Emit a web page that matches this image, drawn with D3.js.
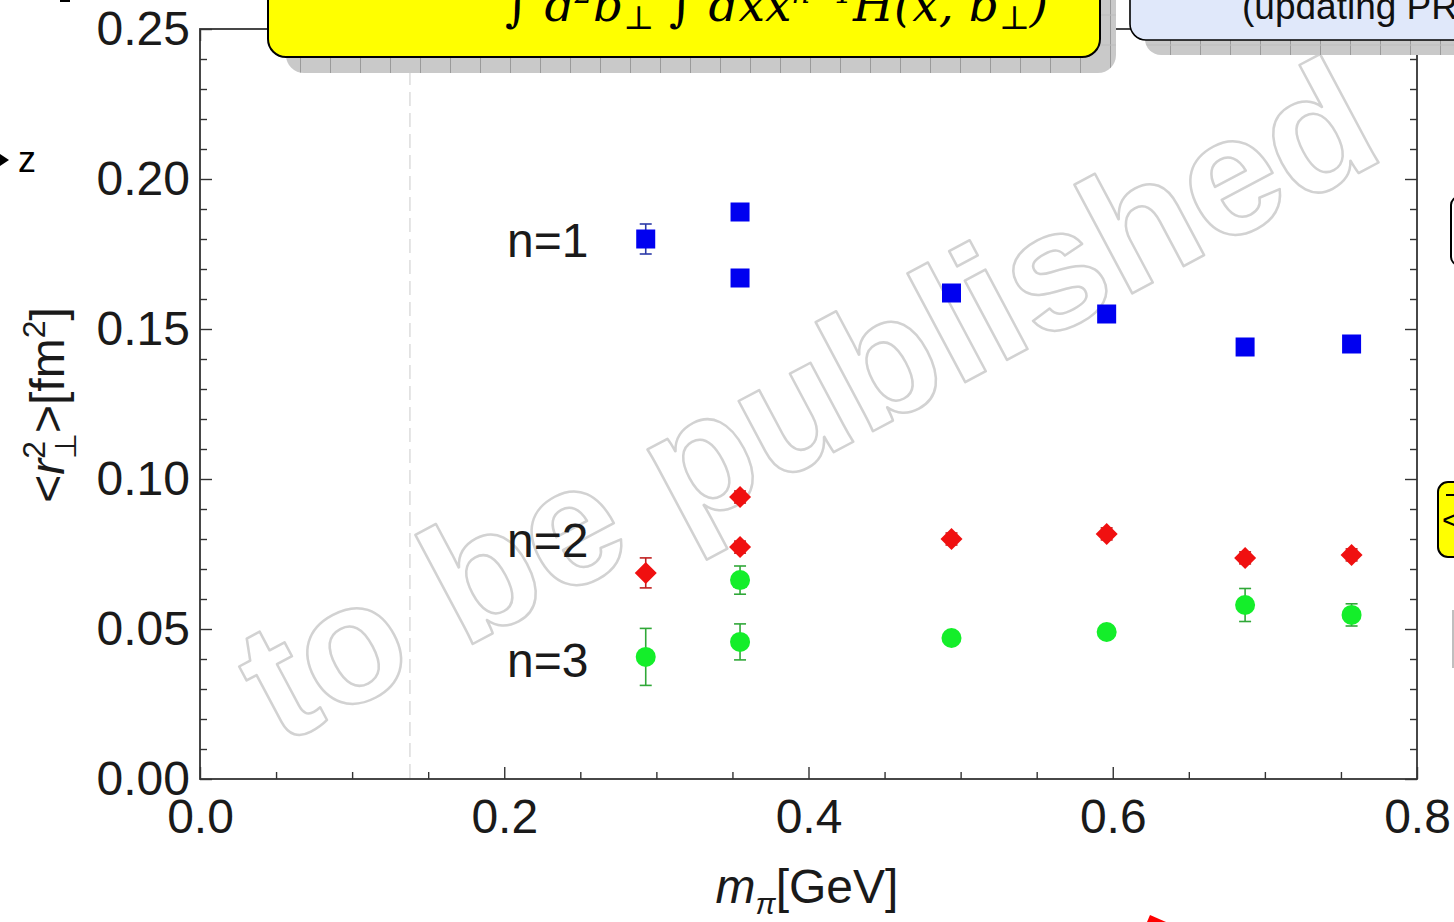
<!DOCTYPE html>
<html>
<head>
<meta charset="utf-8">
<script src="https://cdn.jsdelivr.net/npm/d3@7"></script>
<style>
  html, body { margin: 0; padding: 0; background: #fff; overflow: hidden; }
  svg { display: block; font-family: "Liberation Sans", Arial, sans-serif; }
</style>
</head>
<body>
<div id="chart"></div>
<script>
// ------------------------------
// Data
// ------------------------------
const mpi = [0.293, 0.355, 0.355, 0.494, 0.596, 0.687, 0.757];

const n1Values = [0.180, 0.189, 0.167, 0.162, 0.155, 0.144, 0.145];
const n1Errors = [0.005, 0.002, 0.002, 0.002, 0.002, 0.002, 0.002];

const n2Values = [0.0687, 0.094, 0.0773, 0.080, 0.0817, 0.0737, 0.0747];
const n2Errors = [0.005, 0.002, 0.002, 0.002, 0.002, 0.002, 0.002];

const n3Values = [0.0407, 0.0663, 0.0457, 0.047, 0.049, 0.058, 0.0547];
const n3Errors = [0.0095, 0.0047, 0.006, 0.002, 0.002, 0.0055, 0.0037];

const xMajorTicks = [0.0, 0.2, 0.4, 0.6, 0.8];
const xMinorTicks = [0.05, 0.1, 0.15, 0.25, 0.3, 0.35, 0.45, 0.5, 0.55, 0.65, 0.7, 0.75];
const yMajorTicks = [0.0, 0.05, 0.10, 0.15, 0.20, 0.25];
const yMinorTicks = d3.range(1, 25).map((i) => i / 100).filter((v) => Math.round(v * 100) % 5 !== 0);

const physicalPionMass = 0.138;

const seriesLabels = ["n=1", "n=2", "n=3"];
const seriesLabelY = [0.18, 0.08, 0.04];

// ------------------------------
// Layout
// ------------------------------
const width = 1454;
const height = 922;
const margin = { top: 29, right: 37, bottom: 143, left: 200 };

const svg = d3.select("#chart").append("svg").attr("width", width).attr("height", height);

const defs = svg.append("defs");
const pat = defs.append("pattern")
  .attr("id", "shadowGrid")
  .attr("patternUnits", "userSpaceOnUse")
  .attr("width", 30)
  .attr("height", 30);
pat.append("rect").attr("width", 30).attr("height", 30).attr("fill", "#c9c9c9");
pat.append("line").attr("x1", 0.5).attr("x2", 0.5).attr("y1", 0).attr("y2", 30)
  .attr("stroke", "#9a9a9a").attr("stroke-width", 1);
pat.append("line").attr("x1", 0).attr("x2", 30).attr("y1", 15).attr("y2", 15)
  .attr("stroke", "#bdbdbd").attr("stroke-width", 1);

const x = d3.scaleLinear().domain([0, 0.8]).range([margin.left, width - margin.right]);
const y = d3.scaleLinear().domain([0, 0.25]).range([height - margin.bottom, margin.top]);

const plotLeft = x(0), plotRight = x(0.8), plotTop = y(0.25), plotBottom = y(0);

// Watermark (behind the data)
svg.append("text")
  .attr("transform", "translate(834,452) rotate(-28)")
  .attr("text-anchor", "middle")
  .attr("font-size", 170)
  .attr("font-weight", "bold")
  .attr("fill", "none")
  .attr("stroke", "#d2d2d2")
  .attr("stroke-width", 2.5)
  .attr("stroke-linejoin", "round")
  .text("to be published");

// Physical pion mass dashed line
svg.append("line")
  .attr("x1", x(physicalPionMass)).attr("x2", x(physicalPionMass))
  .attr("y1", plotTop).attr("y2", plotBottom)
  .attr("stroke", "#dcdcdc").attr("stroke-width", 1.5)
  .attr("stroke-dasharray", "14,7");

// ------------------------------
// Axes / frame
// ------------------------------
const axisColor = "#333";

function styleAxis(g) {
  g.select(".domain").remove();
  g.selectAll(".tick line").attr("stroke", axisColor).attr("stroke-width", 1.4);
  g.selectAll(".tick text")
    .attr("fill", "#1a1a1a")
    .attr("font-size", 48)
    .attr("font-family", "'Liberation Sans', Arial, sans-serif");
}

// bottom
svg.append("g").attr("transform", `translate(0,${plotBottom})`)
  .call(d3.axisBottom(x).tickValues(xMajorTicks).tickSize(-12).tickPadding(20).tickFormat(d3.format(".1f")))
  .call(styleAxis);
svg.append("g").attr("transform", `translate(0,${plotBottom})`)
  .call(d3.axisBottom(x).tickValues(xMinorTicks).tickSize(-7).tickFormat(""))
  .call(styleAxis);
// top
svg.append("g").attr("transform", `translate(0,${plotTop})`)
  .call(d3.axisTop(x).tickValues(xMajorTicks).tickSize(-12).tickFormat(""))
  .call(styleAxis);
svg.append("g").attr("transform", `translate(0,${plotTop})`)
  .call(d3.axisTop(x).tickValues(xMinorTicks).tickSize(-7).tickFormat(""))
  .call(styleAxis);
// left
svg.append("g").attr("transform", `translate(${plotLeft},0)`)
  .call(d3.axisLeft(y).tickValues(yMajorTicks).tickSize(-12).tickPadding(10).tickFormat(d3.format(".2f")))
  .call(styleAxis);
svg.append("g").attr("transform", `translate(${plotLeft},0)`)
  .call(d3.axisLeft(y).tickValues(yMinorTicks).tickSize(-7).tickFormat(""))
  .call(styleAxis);
// right
svg.append("g").attr("transform", `translate(${plotRight},0)`)
  .call(d3.axisRight(y).tickValues(yMajorTicks).tickSize(-12).tickFormat(""))
  .call(styleAxis);
svg.append("g").attr("transform", `translate(${plotRight},0)`)
  .call(d3.axisRight(y).tickValues(yMinorTicks).tickSize(-7).tickFormat(""))
  .call(styleAxis);

svg.append("rect")
  .attr("x", plotLeft).attr("y", plotTop)
  .attr("width", plotRight - plotLeft).attr("height", plotBottom - plotTop)
  .attr("fill", "none").attr("stroke", axisColor).attr("stroke-width", 1.8);

// Axis titles
const xTitle = svg.append("text")
  .attr("x", 807).attr("y", 903)
  .attr("text-anchor", "middle")
  .attr("font-size", 48)
  .attr("fill", "#1a1a1a");
xTitle.append("tspan").attr("font-style", "italic").text("m");
xTitle.append("tspan").attr("font-style", "italic").attr("font-size", 30).attr("dy", 11).text("π");
xTitle.append("tspan").attr("dy", -11).text("[GeV]");

const yTitle = svg.append("text")
  .attr("transform", "translate(64,405) rotate(-90)")
  .attr("text-anchor", "middle")
  .attr("font-size", 48)
  .attr("fill", "#1a1a1a");
yTitle.append("tspan").text("<");
yTitle.append("tspan").attr("font-style", "italic").text("r");
yTitle.append("tspan").attr("font-size", 32).attr("dy", -19).text("2");
yTitle.append("tspan").attr("font-size", 30).attr("dx", -18).attr("dy", 31).text("⊥");
yTitle.append("tspan").attr("dy", -12).text(">[fm");
yTitle.append("tspan").attr("font-size", 32).attr("dy", -19).text("2");
yTitle.append("tspan").attr("dy", 19).text("]");

// ------------------------------
// Data points
// ------------------------------
function drawSeries(values, errors, color, errColor, shape) {
  const data = values.map((v, i) => ({ m: mpi[i], v, e: errors[i] }));
  const g = svg.append("g");
  const eb = g.selectAll("g.err").data(data).join("g").attr("class", "err")
    .attr("stroke", errColor).attr("stroke-width", 1.6);
  eb.append("line")
    .attr("x1", (d) => x(d.m)).attr("x2", (d) => x(d.m))
    .attr("y1", (d) => y(d.v - d.e)).attr("y2", (d) => y(d.v + d.e));
  eb.append("line")
    .attr("x1", (d) => x(d.m) - 6).attr("x2", (d) => x(d.m) + 6)
    .attr("y1", (d) => y(d.v - d.e)).attr("y2", (d) => y(d.v - d.e));
  eb.append("line")
    .attr("x1", (d) => x(d.m) - 6).attr("x2", (d) => x(d.m) + 6)
    .attr("y1", (d) => y(d.v + d.e)).attr("y2", (d) => y(d.v + d.e));

  if (shape === "square") {
    g.selectAll("rect.pt").data(data).join("rect").attr("class", "pt")
      .attr("x", (d) => x(d.m) - 9.5).attr("y", (d) => y(d.v) - 9.5)
      .attr("width", 19).attr("height", 19).attr("fill", color);
  } else if (shape === "diamond") {
    g.selectAll("path.pt").data(data).join("path").attr("class", "pt")
      .attr("d", (d) => `M${x(d.m)},${y(d.v) - 11}L${x(d.m) + 11},${y(d.v)}L${x(d.m)},${y(d.v) + 11}L${x(d.m) - 11},${y(d.v)}Z`)
      .attr("fill", color);
  } else {
    g.selectAll("circle.pt").data(data).join("circle").attr("class", "pt")
      .attr("cx", (d) => x(d.m)).attr("cy", (d) => y(d.v)).attr("r", 10)
      .attr("fill", color);
  }
}

drawSeries(n1Values, n1Errors, "#0000f0", "#2b3aa8", "square");
drawSeries(n2Values, n2Errors, "#f01010", "#c02020", "diamond");
drawSeries(n3Values, n3Errors, "#14ee2a", "#30a838", "circle");

// Series labels
svg.selectAll("text.series").data(seriesLabels).join("text").attr("class", "series")
  .attr("x", 507)
  .attr("y", (d, i) => y(seriesLabelY[i]) + 18)
  .attr("font-size", 48)
  .attr("fill", "#1a1a1a")
  .text((d) => d);

// ------------------------------
// Slide decorations around the plot
// ------------------------------
// yellow formula box
svg.append("rect").attr("x", 286).attr("y", -25).attr("width", 830).attr("height", 98)
  .attr("rx", 18).attr("fill", "url(#shadowGrid)");
svg.append("rect").attr("x", 268).attr("y", -40).attr("width", 832).attr("height", 97)
  .attr("rx", 18).attr("fill", "#ffff00").attr("stroke", "#000").attr("stroke-width", 2);
const formula = svg.append("text")
  .attr("x", 505).attr("y", 21)
  .attr("font-family", "'DejaVu Serif', serif")
  .attr("font-style", "italic")
  .attr("font-size", 47)
  .attr("fill", "#000");
formula.append("tspan").text("∫ d");
formula.append("tspan").attr("font-size", 29).attr("dy", -18).text("2");
formula.append("tspan").attr("dy", 18).text("b");
formula.append("tspan").attr("font-size", 33).attr("font-style", "normal").attr("dy", 8).text("⊥");
formula.append("tspan").attr("dy", -8).text(" ∫ dxx");
formula.append("tspan").attr("font-size", 29).attr("dy", -18).text("n−1");
formula.append("tspan").attr("dy", 18).text("H(x, b");
formula.append("tspan").attr("font-size", 33).attr("font-style", "normal").attr("dy", 8).text("⊥");
formula.append("tspan").attr("dy", -8).text(")");

// blue box
svg.append("rect").attr("x", 1145).attr("y", -25).attr("width", 400).attr("height", 80)
  .attr("rx", 16).attr("fill", "url(#shadowGrid)");
svg.append("rect").attr("x", 1130).attr("y", -40).attr("width", 400).attr("height", 80)
  .attr("rx", 16).attr("fill", "#e0e8fa").attr("stroke", "#000").attr("stroke-width", 1.6);
svg.append("text")
  .attr("x", 1242).attr("y", 19)
  .attr("font-size", 37)
  .attr("fill", "#111")
  .text("(updating PRD)");

// right edge fragments
svg.append("rect").attr("x", 1451).attr("y", 197).attr("width", 40).attr("height", 68)
  .attr("rx", 8).attr("fill", "#fff").attr("stroke", "#000").attr("stroke-width", 2);
svg.append("rect").attr("x", 1438).attr("y", 482).attr("width", 40).attr("height", 75)
  .attr("rx", 10).attr("fill", "#ffff00").attr("stroke", "#000").attr("stroke-width", 2);
svg.append("text").attr("x", 1442).attr("y", 530).attr("font-size", 30).attr("fill", "#000").text("<");
svg.append("line").attr("x1", 1446).attr("x2", 1454).attr("y1", 495).attr("y2", 495)
  .attr("stroke", "#000").attr("stroke-width", 2);
svg.append("line").attr("x1", 1453).attr("x2", 1453).attr("y1", 610).attr("y2", 668)
  .attr("stroke", "#aaa").attr("stroke-width", 1.5);

// left edge fragments
svg.append("path").attr("d", "M0,154L9,160L0,166Z").attr("fill", "#000");
svg.append("text").attr("x", 18).attr("y", 172).attr("font-size", 36).attr("fill", "#000").text("z");
svg.append("rect").attr("x", 60).attr("y", 0).attr("width", 10).attr("height", 2).attr("fill", "#000");

// red arrow fragment at the bottom
svg.append("path").attr("d", "M1147,922L1150,915L1166,922Z").attr("fill", "#f00");
</script>
</body>
</html>
